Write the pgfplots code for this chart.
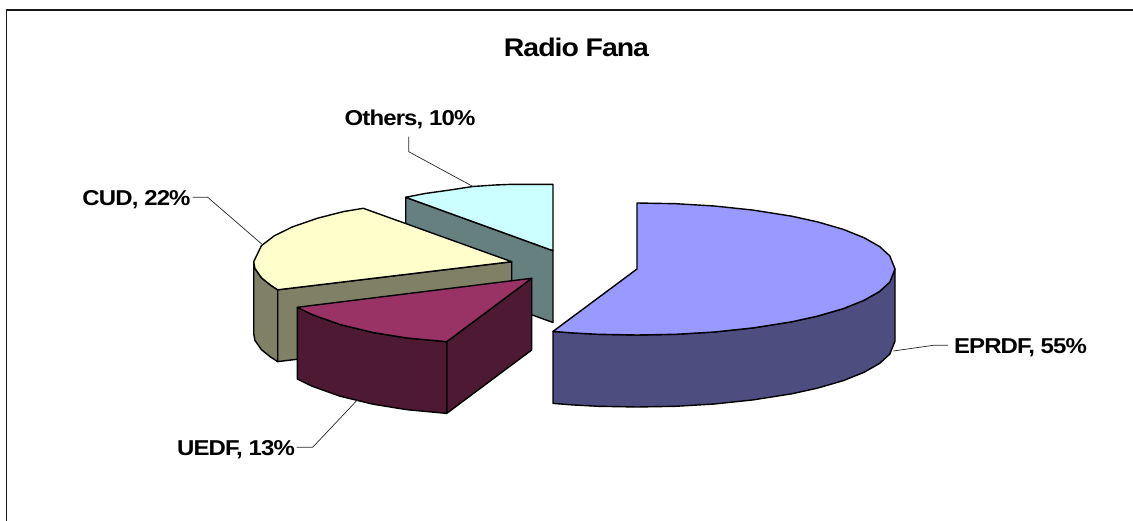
\documentclass[border=0pt]{standalone}
\usepackage{pgfplots}
\pgfplotsset{compat=1.18}
\usepackage{fontspec}
\newfontfamily\labfont{Liberation Sans}[LetterSpace=-4.0,FakeStretch=1.115,BoldFont={* Bold}]
\definecolor{eprdftop}{HTML}{9999FF}
\definecolor{eprdfside}{HTML}{4D4D80}
\definecolor{cudtop}{HTML}{FFFFCC}
\definecolor{cudside}{HTML}{808066}
\definecolor{uedftop}{HTML}{993366}
\definecolor{uedfside}{HTML}{4D1933}
\definecolor{otherstop}{HTML}{CCFFFF}
\definecolor{othersside}{HTML}{668080}
\newcommand{\lab}{\labfont\fontsize{21.5pt}{23pt}\selectfont\bfseries}
\newcommand{\ttl}{\labfont\fontsize{25.5pt}{27pt}\selectfont\bfseries}
\begin{document}
\begin{tikzpicture}
\useasboundingbox (0,0) rectangle (1133pt,521pt);
\begin{axis}[
    at={(0,0)}, anchor=south west,
    width=1133pt, height=521pt, scale only axis,
    xmin=0, xmax=1133, ymin=0, ymax=521,
    y dir=reverse,
    hide axis,
    every axis plot/.append style={forget plot, mark=none, line join=round},
    slice/.style={draw=black, line width=1.4pt},
    leader/.style={draw=black!85, line width=0.7pt},
]
% chart frame, open to the right and at the bottom
\addplot[draw=black!90, line width=1.5pt] coordinates {(6.5,521)(6.5,10)(1133,10)};

% Others
\addplot[slice, fill=othersside] coordinates {(405.7,197.3)(553,250.7)(553,322.5)(405.7,269.3)} -- cycle;
\addplot[slice, fill=otherstop] coordinates {(405.7,197.3)(425,193.5)(450,190)(473,186.5)(495,185)(510,184.4)(553,184.4)(553,250.7)} -- cycle;

% CUD
\addplot[slice, fill=cudside] coordinates {(253.7,261.7)(254.9,268.3)(261.4,277.7)(270.5,285.1)(277.7,289.8)(277.7,361.6)(270.5,357)(261.4,349.7)(254.9,340.3)(253.7,333.7)} -- cycle;
\addplot[slice, fill=cudside] coordinates {(277.7,289.8)(511.7,261.7)(511.7,333.7)(277.7,361.6)} -- cycle;
\addplot[slice, fill=cudtop] coordinates {(363.3,208.3)(344,211.5)(318.2,218)(292.4,226.9)(274.3,235.8)(261.4,245.7)(253.7,261.7)(254.9,268.3)(261.4,277.7)(270.5,285.1)(277.7,289.8)(511.7,261.7)} -- cycle;

% UEDF
\addplot[slice, fill=uedfside] coordinates {(446.7,341.7)(531.7,278.3)(531.7,350)(446.7,413.4)} -- cycle;
\addplot[slice, fill=uedfside] coordinates {(297.3,307.3)(312,314.5)(340,324.5)(373,332.5)(407,338)(446.7,341.7)(446.7,413.4)(407,409.7)(373,404.2)(340,396.2)(312,386.2)(297.3,379)} -- cycle;
\addplot[slice, fill=uedftop] coordinates {(297.3,307.3)(312,314.5)(340,324.5)(373,332.5)(407,338)(446.7,341.7)(531.7,278.3)} -- cycle;

% EPRDF
\addplot[slice, fill=eprdfside] coordinates {(553,331.4)(572.5,332.9)(598.3,334.3)(637,335)(675.7,334.3)(714.4,332)(753.1,327.9)(791.8,321.8)(817.6,316.1)(843.4,308.6)(864,300.3)(879.5,291.5)(889.8,282.1)(895,269)
    (895,341)(889.8,354.1)(879.5,363.5)(864,372.3)(843.4,380.6)(817.6,388.1)(791.8,393.8)(753.1,399.9)(714.4,404)(675.7,406.3)(637,407)(598.3,406.3)(572.5,404.9)(553,403.4)} -- cycle;
\addplot[slice, fill=eprdftop] coordinates {(637,203)(637,269)(553,331.4)(572.5,332.9)(598.3,334.3)(637,335)(675.7,334.3)(714.4,332)(753.1,327.9)(791.8,321.8)(817.6,316.1)(843.4,308.6)(864,300.3)(879.5,291.5)(889.8,282.1)(895,269)
    (889.8,255.9)(879.5,246.5)(864,237.7)(843.4,229.4)(817.6,221.9)(791.8,216.2)(753.1,210.1)(714.4,206)(675.7,203.7)} -- cycle;

% leader lines
\addplot[leader] coordinates {(408.7,136.7)(408.7,151.7)(473.3,186.7)};
\addplot[leader] coordinates {(192.7,197.3)(207.7,197.3)(261.7,244)};
\addplot[leader] coordinates {(296.7,447.3)(312.7,447.3)(357.3,400)};
\addplot[leader] coordinates {(893.3,351)(933.3,345.3)(948,345.3)};

% texts
\node[anchor=base, inner sep=0pt] at (axis cs:576.5,57) {\ttl Radio Fana};
\node[anchor=base, inner sep=0pt] at (axis cs:410,126) {\lab Others, 10\%};
\node[anchor=base, inner sep=0pt] at (axis cs:136.5,206) {\lab CUD, 22\%};
\node[anchor=base, inner sep=0pt] at (axis cs:236,455) {\lab UEDF, 13\%};
\node[anchor=base, inner sep=0pt] at (axis cs:1020.5,354) {\lab EPRDF, 55\%};
\end{axis}
\end{tikzpicture}
\end{document}
